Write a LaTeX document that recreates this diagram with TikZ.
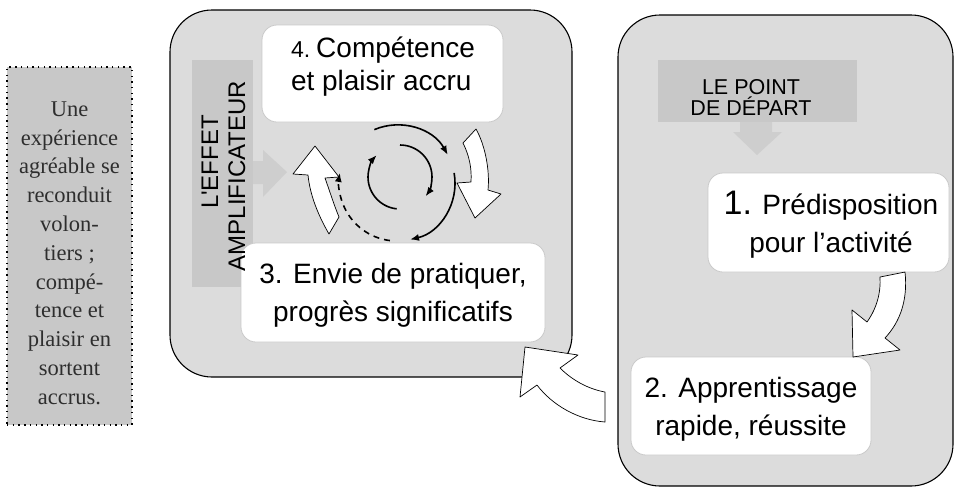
\documentclass[tikz,border=0pt]{standalone}
\usepackage{fontspec}
\setmainfont{Liberation Sans}
\newfontfamily\notefont{Liberation Serif}
\usetikzlibrary{arrows.meta}

\definecolor{panelgray}{HTML}{DCDCDC}
\definecolor{tabgray}{HTML}{C8C8C8}
\definecolor{pointergray}{HTML}{CECECE}
\definecolor{notetext}{HTML}{2E2E2E}
\definecolor{edgegray}{HTML}{CACACA}

\tikzset{
  panel/.style={draw=black, line width=1.1pt, fill=panelgray, rounded corners=42pt, inner sep=0pt},
  stagebox/.style={draw=edgegray, line width=0.8pt, fill=white, rounded corners=15pt, inner sep=0pt},
  stagetext/.style={align=center, inner sep=0pt, font=\fontsize{28}{38}\selectfont},
  tab/.style={fill=tabgray, inner sep=0pt},
  tabtext/.style={align=center, inner sep=0pt, font=\fontsize{21.5}{20.5}\selectfont},
  blockarrow/.style={draw=black, line width=0.7pt, fill=white, line join=round},
  cyclearrow/.style={line width=1.6pt, -{Latex[length=9pt,width=7pt]}},
}

\begin{document}
\begin{tikzpicture}[x=1pt,y=-1pt]
\useasboundingbox (0,0) rectangle (955,488);

% side note
\node[draw, line width=1.4pt, dash pattern=on 1.4pt off 4.3pt, fill=tabgray,
  minimum width=125pt, minimum height=358pt, inner sep=0pt] (note) at (69.5,246) {};
\node[align=center, inner sep=0pt, text=notetext, font=\notefont\fontsize{22.5}{28.8}\selectfont] (notetxt) at (69.5,253)
  {Une\\expérience\\agréable se\\reconduit\\volon-\\tiers ;\\compé-\\tence et\\plaisir en\\sortent\\accrus.};

% the two panels
\node[panel, minimum width=402pt, minimum height=367pt] (loop) at (371,193.5) {};
\node[panel, minimum width=335pt, minimum height=471pt] (start) at (785.5,250.5) {};

% tabs
\node[tab, minimum width=61pt, minimum height=227pt] (effet) at (222.5,173.5) {};
\node[tab, minimum width=199pt, minimum height=62pt] (depart) at (757.5,91) {};
\node[tabtext] (departtxt) at (751,97.5) {LE POINT\\DE DÉPART};
\fill[pointergray] (253,161) -- (263,161) -- (263,150) -- (287,172) -- (263,197) -- (263,184) -- (253,184) -- cycle;
\fill[pointergray] (740,122) -- (772,122) -- (772,132) -- (782,132) -- (757,155) -- (733,132) -- (740,132) -- cycle;

% stages
\node[stagebox, minimum width=241pt, minimum height=97pt] (s4) at (382.5,73.5) {};
\node[stagetext, align=left, font=\fontsize{28}{33}\selectfont] (s4txt) at (383,66.5)
  {{\fontsize{23}{33}\selectfont 4.}\hspace{6pt}Compétence\\et plaisir accru};
\node[stagebox, minimum width=304pt, minimum height=99pt] (s3) at (393,292.5) {};
\node[stagetext] (s3txt) at (393,295.5) {3. Envie de pratiquer,\\progrès significatifs};
\node[stagebox, minimum width=241pt, minimum height=99pt] (s1) at (828.5,222.5) {};
\node[stagetext] (s1txt) at (831,224.5) {{\fontsize{34}{39}\selectfont 1.} Prédisposition\\pour l’activité};
\node[stagebox, minimum width=240pt, minimum height=98pt] (s2) at (751,406) {};
\node[stagetext] (s2txt) at (751,409) {2. Apprentissage\\rapide, réussite};

\node[rotate=90, align=center, inner sep=0pt, font=\fontsize{24}{27}\selectfont] (effettxt) at (223.5,176)
  {\hspace*{28pt}L\textquotesingle EFFET\\AMPLIFICATEUR};

% block arrows
\draw[blockarrow] (880,277) -- (905,272) .. controls (908,300) and (900,322) .. (885,338) -- (900,350) -- (853,357)
  -- (852,310) -- (867,322) .. controls (877,308) and (881,292) .. (880,277) -- cycle;
\draw[blockarrow] (605,392) -- (605,422) .. controls (578,420) and (552,405) .. (537,385) -- (520,397) -- (525,347)
  -- (578,355) -- (560,368) .. controls (572,380) and (588,389) .. (605,392) -- cycle;
\draw[blockarrow] (463,143) -- (476,129) .. controls (485,145) and (490,170) .. (488,190) -- (501,194) -- (475,218)
  -- (457,183) -- (471,182) .. controls (472,168) and (469,155) .. (463,143) -- cycle;
\draw[blockarrow] (315,146) -- (339,177) -- (325,178) .. controls (330,192) and (334,205) .. (339,217) -- (329,234)
  .. controls (318,215) and (310,195) .. (308,175) -- (293,174) -- cycle;

% cycle
\coordinate (cyc) at (397,183);
\coordinate (cycin) at (400,177);
\draw[cyclearrow] ([shift={(-113:58)}]cyc) arc[start angle=-113, end angle=-29, radius=58];
\draw[cyclearrow] ([shift={(-10:58)}]cyc) arc[start angle=-10, end angle=77, radius=58];
\draw[cyclearrow, dash pattern=on 6pt off 5pt] ([shift={(97:58)}]cyc) arc[start angle=97, end angle=190, radius=58];
\draw[cyclearrow] ([shift={(-90:32)}]cycin) arc[start angle=-90, end angle=37, radius=32];
\draw[cyclearrow] ([shift={(96:32)}]cycin) arc[start angle=96, end angle=223, radius=32];
\end{tikzpicture}
\end{document}
